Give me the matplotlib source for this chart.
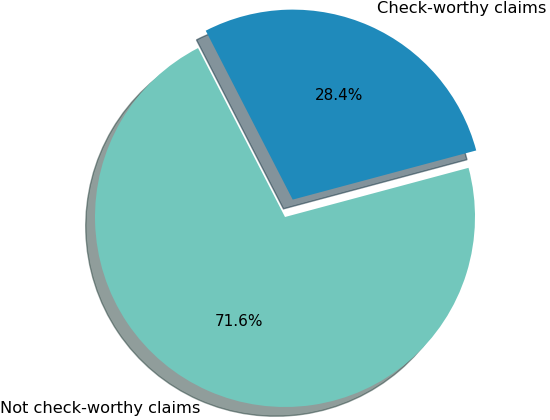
import matplotlib
matplotlib.use("Agg")
import matplotlib.pyplot as plt

labels = ["Check-worthy claims", "Not check-worthy claims"]
values = [28.4, 71.6]
colors = ["#1f8abb", "#72c7bc"]
explode = [0.1, 0.0]

fig = plt.figure(figsize=(5.5, 4.2), dpi=100)
W, H = 550, 420
r_px = 190
cx, cy = 285, 420 - 217
span = 2.5 * r_px
ax = fig.add_axes([(cx - span / 2) / W, (cy - span / 2) / H, span / W, span / H])
wedges, texts, autotexts = ax.pie(
    values, labels=labels, colors=colors, explode=explode, autopct="%1.1f%%",
    shadow={"ox": -0.035, "oy": -0.035, "shade": 0.7}, startangle=15,
    textprops={"fontsize": 11.7})
for t in autotexts:
    t.set_fontsize(11)
ax.set_xlim(-1.25, 1.25)
ax.set_ylim(-1.25, 1.25)
ax.set_aspect("equal")
fig.savefig("out.png", dpi=100)
